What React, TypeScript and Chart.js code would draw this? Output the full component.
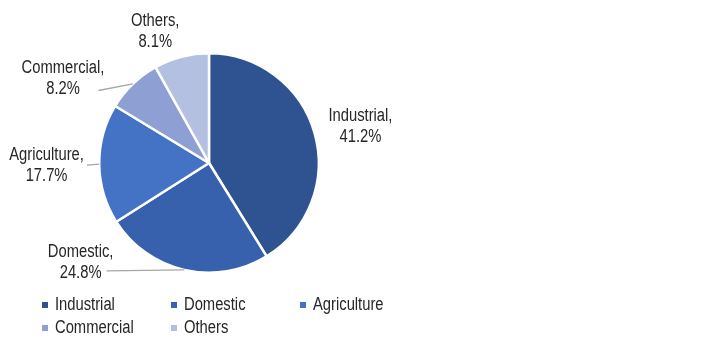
import React, { useEffect, useRef } from "react";
import { Chart, registerables } from "chart.js";

Chart.register(...registerables);

const categories = ["Industrial", "Domestic", "Agriculture", "Commercial", "Others"];
const shares = [41.2, 24.8, 17.7, 8.2, 8.1];
const colors = ["#2F5291", "#3761AD", "#4472C4", "#8EA0D3", "#B4C0E2"];
// label centre offsets relative to pie centre, in units of the pie radius
const labelOffsetX = [1.38, -1.17, -1.48, -1.33, -0.49];
const labelOffsetY = [-0.33, 0.91, 0.02, -0.77, -1.2];
const showLeader = [false, true, true, true, false];

const FONT = "'Liberation Sans', Arial, sans-serif";
const SQUEEZE = 0.82;

function narrowText(ctx: CanvasRenderingContext2D, text: string, x: number, y: number, align: "center" | "left") {
  ctx.save();
  ctx.translate(x, y);
  ctx.scale(SQUEEZE, 1);
  ctx.textAlign = align;
  ctx.fillText(text, 0, 0);
  ctx.restore();
}

const labelPlugin = {
  id: "sliceLabels",
  afterDatasetsDraw(chart: any) {
    const ctx = chart.ctx;
    const meta = chart.getDatasetMeta(0);
    ctx.save();
    ctx.font = `18px ${FONT}`;
    ctx.textBaseline = "middle";
    meta.data.forEach((arc: any, i: number) => {
      const p = arc.getProps(["x", "y", "startAngle", "endAngle", "outerRadius"], true);
      const r = p.outerRadius;
      const lx = p.x + labelOffsetX[i] * r;
      const ly = p.y + labelOffsetY[i] * r;
      const l1 = categories[i] + ",";
      const l2 = shares[i].toFixed(1) + "%";
      if (showLeader[i]) {
        const mid = (p.startAngle + p.endAngle) / 2;
        const ex = p.x + Math.cos(mid) * r;
        const ey = p.y + Math.sin(mid) * r;
        const w2 = ctx.measureText(l2).width * SQUEEZE;
        const w1 = ctx.measureText(l1).width * SQUEEZE;
        let sx: number, sy: number;
        if (i === 1) {
          sx = lx + w2 / 2 + 5;
          sy = ly + 8;
        } else if (i === 2) {
          sx = lx + w1 / 2 + 3;
          sy = ly + 0;
        } else {
          sx = lx + w1 / 2 - 6;
          sy = ly + 12;
        }
        ctx.strokeStyle = "#A6A6A6";
        ctx.lineWidth = 1.3;
        ctx.beginPath();
        ctx.moveTo(sx, sy);
        ctx.lineTo(ex, ey);
        ctx.stroke();
      }
      ctx.fillStyle = "#262626";
      narrowText(ctx, l1, lx, ly - 10.5, "center");
      narrowText(ctx, l2, lx, ly + 10.5, "center");
    });
    ctx.restore();
  },
  afterDraw(chart: any) {
    const ctx = chart.ctx;
    ctx.save();
    ctx.font = `18px ${FONT}`;
    ctx.textBaseline = "middle";
    const x0 = 42;
    const colW = 129;
    const y0 = 305;
    const rowH = 23;
    categories.forEach((c, i) => {
      const col = i % 3;
      const row = Math.floor(i / 3);
      const x = x0 + col * colW;
      const y = y0 + row * rowH;
      ctx.fillStyle = colors[i];
      ctx.fillRect(x, y - 3, 6, 6);
      ctx.fillStyle = "#262626";
      narrowText(ctx, c, x + 13, y, "left");
    });
    ctx.restore();
  },
};

export default function App() {
  const ref = useRef<HTMLCanvasElement>(null);
  useEffect(() => {
    document.body.style.margin = "0";
    const chart = new Chart(ref.current!, {
      type: "pie",
      data: {
        labels: categories,
        datasets: [
          {
            data: shares,
            backgroundColor: colors,
            borderColor: "#FFFFFF",
            borderWidth: 2.5,
          },
        ],
      },
      options: {
        animation: false,
        responsive: false,
        layout: { padding: { left: 98, top: 52, right: 385, bottom: 86 } },
        plugins: { legend: { display: false }, tooltip: { enabled: false } },
      },
      plugins: [labelPlugin],
    });
    return () => chart.destroy();
  }, []);
  return (
    <div style={{ width: 705, height: 360, background: "#fff" }}>
      <canvas ref={ref} width={705} height={360} style={{ display: "block" }} />
    </div>
  );
}
